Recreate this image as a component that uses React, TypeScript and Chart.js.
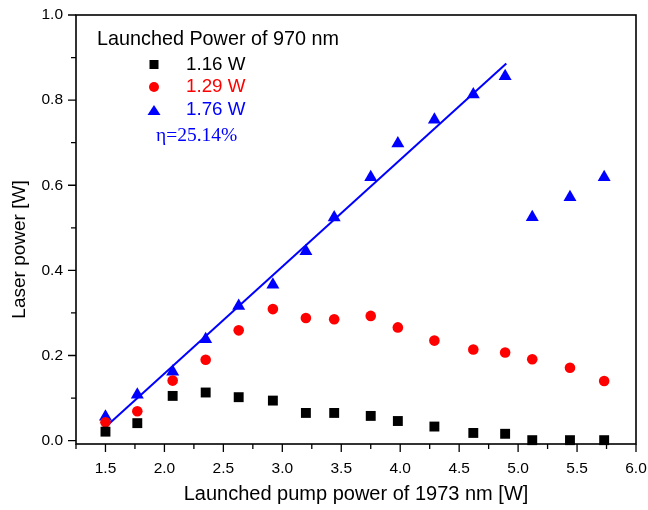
import React, { useEffect, useRef } from 'react';
import { Chart, registerables } from 'chart.js';

Chart.register(...registerables);

// ---- data ----
const pumpPower = [1.5, 1.77, 2.07, 2.35, 2.63, 2.92, 3.2, 3.44, 3.75, 3.98, 4.29, 4.62, 4.89, 5.12, 5.44, 5.73];
const laser116 = [0.021, 0.041, 0.105, 0.113, 0.102, 0.094, 0.065, 0.065, 0.058, 0.046, 0.033, 0.018, 0.016, 0.001, 0.001, 0.001];
const laser129 = [0.043, 0.069, 0.141, 0.19, 0.259, 0.309, 0.288, 0.285, 0.293, 0.266, 0.235, 0.214, 0.207, 0.191, 0.171, 0.14];
const laser176 = [0.056, 0.108, 0.162, 0.238, 0.316, 0.366, 0.445, 0.524, 0.619, 0.698, 0.754, 0.813, 0.856, 0.525, 0.572, 0.619];
const fitX = [1.5, 4.9];
const fitY = [0.032, 0.886];

const seriesLabels = ['1.16 W', '1.29 W', '1.76 W'];
const seriesColors = ['#000000', '#ff0000', '#0000ff'];
const legendTitle = 'Launched Power of 970 nm';
const slopeLabel = 'η=25.14%';

const xTicks = [1.5, 2.0, 2.5, 3.0, 3.5, 4.0, 4.5, 5.0, 5.5, 6.0];
const xMinorTicks = [1.25, 1.75, 2.25, 2.75, 3.25, 3.75, 4.25, 4.75, 5.25, 5.75];
const yTicks = [0.0, 0.2, 0.4, 0.6, 0.8, 1.0];
const yMinorTicks = [0.1, 0.3, 0.5, 0.7, 0.9];

const xTitle = 'Launched pump power of 1973 nm [W]';
const yTitle = 'Laser power [W]';

const SANS = '"Liberation Sans", Arial, sans-serif';
const SERIF = '"Liberation Serif", "Times New Roman", serif';

const toPoints = (ys: number[]) => pumpPower.map((x, i) => ({ x, y: ys[i] }));

const decorPlugin = {
  id: 'decor',
  beforeDatasetsDraw(chart: any) {
    const { ctx, chartArea: a, scales } = chart;
    const xs = scales.x;
    const ys = scales.y;
    ctx.save();
    ctx.strokeStyle = '#000';
    ctx.lineWidth = 1.6;
    ctx.strokeRect(a.left, a.top, a.right - a.left, a.bottom - a.top);
    ctx.lineWidth = 1.3;
    ctx.beginPath();
    xTicks.forEach((v) => {
      const p = xs.getPixelForValue(v);
      ctx.moveTo(p, a.bottom);
      ctx.lineTo(p, a.bottom + 8);
    });
    xMinorTicks.forEach((v) => {
      const p = xs.getPixelForValue(v);
      ctx.moveTo(p, a.bottom);
      ctx.lineTo(p, a.bottom + 5);
    });
    yTicks.forEach((v) => {
      const p = ys.getPixelForValue(v);
      ctx.moveTo(a.left, p);
      ctx.lineTo(a.left - 8, p);
    });
    yMinorTicks.forEach((v) => {
      const p = ys.getPixelForValue(v);
      ctx.moveTo(a.left, p);
      ctx.lineTo(a.left - 5, p);
    });
    ctx.stroke();
    ctx.restore();
  },
  afterDraw(chart: any) {
    const { ctx, chartArea: a } = chart;
    ctx.save();
    // y axis title
    ctx.save();
    ctx.translate(25, 249.5);
    ctx.rotate(-Math.PI / 2);
    ctx.font = `19px ${SANS}`;
    ctx.fillStyle = '#000';
    ctx.textAlign = 'center';
    ctx.textBaseline = 'alphabetic';
    ctx.fillText(yTitle, 0, 0);
    ctx.restore();

    // legend
    const lx = a.left + 21;
    ctx.font = `19.8px ${SANS}`;
    ctx.fillStyle = '#000';
    ctx.textAlign = 'left';
    ctx.textBaseline = 'middle';
    ctx.fillText(legendTitle, lx, a.top + 25);
    const symX = a.left + 78;
    const textX = a.left + 110;
    const rows = [a.top + 49.5, a.top + 72, a.top + 95];
    rows.forEach((ry, i) => {
      ctx.fillStyle = seriesColors[i];
      if (i === 0) {
        ctx.fillRect(symX - 4.5, ry - 4.5, 9, 9);
      } else if (i === 1) {
        ctx.beginPath();
        ctx.arc(symX, ry, 5, 0, Math.PI * 2);
        ctx.fill();
      } else {
        ctx.beginPath();
        ctx.moveTo(symX, ry - 5);
        ctx.lineTo(symX + 6.5, ry + 5);
        ctx.lineTo(symX - 6.5, ry + 5);
        ctx.closePath();
        ctx.fill();
      }
      ctx.font = `18.8px ${SANS}`;
      ctx.fillText(seriesLabels[i], textX, ry);
    });
    ctx.fillStyle = '#0000ff';
    ctx.font = `19.5px ${SERIF}`;
    ctx.fillText(slopeLabel, a.left + 80, a.top + 121);
    ctx.restore();
  },
};

export default function App() {
  const ref = useRef<HTMLCanvasElement | null>(null);

  useEffect(() => {
    document.body.style.margin = '0';
    const canvas = ref.current;
    if (!canvas) return;
    const tickFont = { family: SANS, size: 15.5 };
    const chart = new Chart(canvas, {
      type: 'scatter',
      data: {
        datasets: [
          {
            label: seriesLabels[0],
            data: toPoints(laser116),
            pointStyle: 'rect',
            pointRadius: 7,
            pointBorderWidth: 0,
            backgroundColor: seriesColors[0],
            borderColor: seriesColors[0],
            clip: false,
          } as any,
          {
            label: seriesLabels[1],
            data: toPoints(laser129),
            pointStyle: 'circle',
            pointRadius: 5.3,
            pointBorderWidth: 0,
            backgroundColor: seriesColors[1],
            borderColor: seriesColors[1],
            clip: false,
          },
          {
            label: seriesLabels[2],
            data: toPoints(laser176),
            pointStyle: 'triangle',
            pointRadius: 7.5,
            pointBorderWidth: 0,
            backgroundColor: seriesColors[2],
            borderColor: seriesColors[2],
            clip: false,
          },
          {
            label: 'fit',
            data: fitX.map((x, i) => ({ x, y: fitY[i] })),
            showLine: true,
            pointRadius: 0,
            borderColor: '#0000ff',
            borderWidth: 2,
            backgroundColor: '#0000ff',
            clip: false,
          },
        ],
      },
      options: {
        animation: false,
        responsive: false,
        devicePixelRatio: 1,
        layout: { padding: { top: 15, right: 12, left: 0, bottom: 0 } },
        plugins: {
          legend: { display: false },
          tooltip: { enabled: false },
        },
        scales: {
          x: {
            type: 'linear',
            position: 'bottom',
            min: 1.25,
            max: 6.0,
            afterBuildTicks: (s: any) => {
              s.ticks = xTicks.map((v) => ({ value: v }));
            },
            afterFit: (s: any) => {
              s.height = 66;
              s.paddingLeft = 0;
              s.paddingRight = 0;
            },
            grid: { display: false, drawTicks: false },
            border: { display: false },
            ticks: {
              font: tickFont,
              color: '#000',
              padding: 15,
              maxRotation: 0,
              autoSkip: false,
              callback: (v: any) => Number(v).toFixed(1),
            },
            title: {
              display: true,
              text: xTitle,
              font: { family: SANS, size: 20 },
              color: '#000',
              padding: { top: 0, bottom: 4 },
            },
          },
          y: {
            type: 'linear',
            min: -0.008,
            max: 1.0,
            afterBuildTicks: (s: any) => {
              s.ticks = yTicks.map((v) => ({ value: v }));
            },
            afterFit: (s: any) => {
              s.width = 76;
              s.paddingTop = 0;
              s.paddingBottom = 0;
            },
            grid: { display: false, drawTicks: false },
            border: { display: false },
            ticks: {
              font: tickFont,
              color: '#000',
              padding: 13,
              autoSkip: false,
              callback: (v: any) => Number(v).toFixed(1),
            },
          },
        },
      },
      plugins: [decorPlugin],
    });
    return () => chart.destroy();
  }, []);

  return (
    <div style={{ width: 648, height: 510, background: '#fff' }}>
      <canvas ref={ref} width={648} height={510} style={{ display: 'block', width: 648, height: 510 }} />
    </div>
  );
}
